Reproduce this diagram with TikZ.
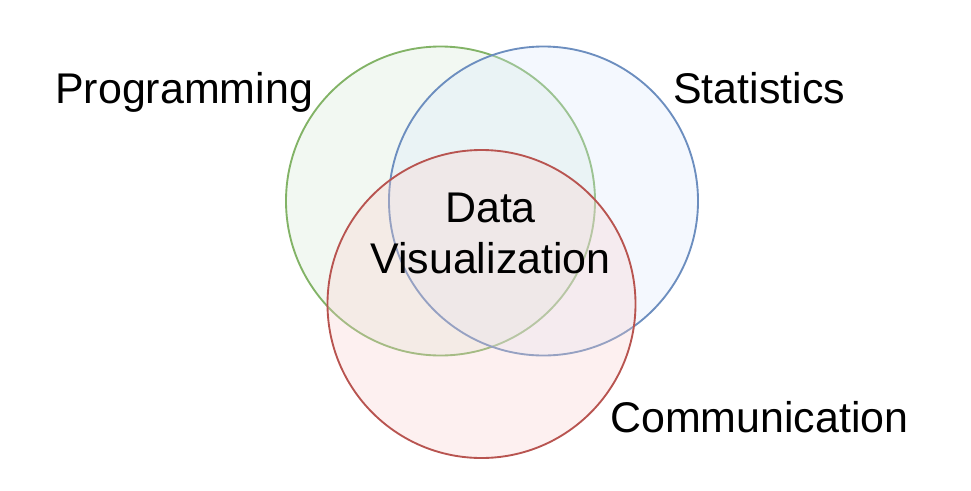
\documentclass[tikz,border=0pt]{standalone}
\usepackage{fontspec}
\setmainfont{Liberation Sans}
\definecolor{progline}{HTML}{82B366}
\definecolor{progfill}{HTML}{D5E8D4}
\definecolor{statline}{HTML}{6C8EBF}
\definecolor{statfill}{HTML}{DAE8FC}
\definecolor{commline}{HTML}{B85450}
\definecolor{commfill}{HTML}{F8CECC}
\begin{document}
\begin{tikzpicture}[x=0.75pt,y=-0.75pt,
    label/.style={inner sep=0pt,font=\fontsize{32.2}{38.5}\selectfont},
    set/.style={line width=1.4pt,fill opacity=0.3}]
  \useasboundingbox (0,0) rectangle (971,490);
  % the three sets
  \draw [set,progline,fill=progfill] (440.5,201) circle (154.5);
  \draw [set,statline,fill=statfill] (543.5,201) circle (154.5);
  \draw [set,commline,fill=commfill] (481.5,304) circle (154);
  % labels
  \node [label,anchor=base west] (prog) at (55,103) {Programming};
  \node [label,anchor=base west] (stat) at (673,103) {Statistics};
  \node [label,anchor=base west] (comm) at (610,432) {Communication};
  \node [label,anchor=north,align=center] (dataviz) at (490.5,192.5)
    {Data\\Visualization};
\end{tikzpicture}
\end{document}
